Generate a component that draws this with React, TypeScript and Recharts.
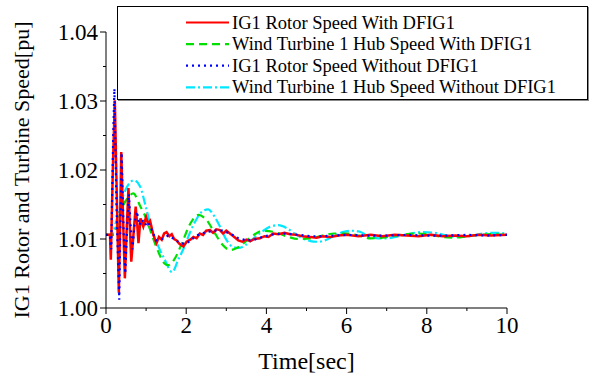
import React from 'react';
import { LineChart, Line, XAxis, YAxis, Label } from 'recharts';

// time [sec] / speed [pu]
const TIME_RED = [0, 0.1, 0.12, 0.17, 0.22, 0.27, 0.32, 0.35, 0.38, 0.43, 0.47, 0.52, 0.56, 0.6, 0.63, 0.69, 0.74, 0.78, 0.81, 0.86, 0.93, 1.0, 1.05, 1.1, 1.18, 1.26, 1.32, 1.39, 1.45, 1.51, 1.58, 1.64, 1.7, 1.76, 1.83, 1.93, 2.01, 2.1, 2.18, 2.26, 2.34, 2.42, 2.5, 2.59, 2.67, 2.75, 2.84, 2.92, 3.0, 3.09, 3.2, 3.3, 3.4, 3.5, 3.6, 3.7, 3.84, 3.95, 4.05, 4.17, 4.3, 4.45, 4.59, 4.75, 4.9, 5.09, 5.25, 5.4, 5.59, 5.8, 6.0, 6.3, 6.6, 6.9, 7.2, 7.5, 7.8, 8.1, 8.4, 8.7, 9.0, 9.3, 9.6, 10];
const IG1_WITH = [1.0106, 1.0106, 1.007, 1.02, 1.0301, 1.016, 1.0022, 1.012, 1.0226, 1.012, 1.0043, 1.012, 1.0174, 1.011, 1.0067, 1.011, 1.0147, 1.012, 1.0094, 1.013, 1.0118, 1.0132, 1.0122, 1.0126, 1.0106, 1.0094, 1.0103, 1.0099, 1.0108, 1.011, 1.0104, 1.0107, 1.01, 1.0098, 1.0093, 1.0089, 1.0096, 1.0099, 1.0103, 1.0101, 1.0108, 1.0106, 1.0112, 1.0113, 1.0109, 1.0114, 1.0113, 1.0108, 1.0112, 1.0108, 1.0103, 1.0098, 1.0096, 1.0099, 1.0097, 1.01, 1.0101, 1.0104, 1.0103, 1.0108, 1.0107, 1.0109, 1.0107, 1.0106, 1.0104, 1.0103, 1.0102, 1.0104, 1.0103, 1.0105, 1.0106, 1.0104, 1.0106, 1.0104, 1.0106, 1.0105, 1.0104, 1.0106, 1.0104, 1.0105, 1.0104, 1.0106, 1.0105, 1.0106];

const TIME_BLUE = [0, 0.1, 0.13, 0.18, 0.21, 0.26, 0.33, 0.36, 0.39, 0.44, 0.48, 0.53, 0.57, 0.62, 0.66, 0.72, 0.77, 0.83, 0.9, 0.97, 1.05, 1.15, 1.25, 1.4, 1.55, 1.7, 1.85, 2.0, 2.15, 2.3, 2.5, 2.7, 2.9, 3.1, 3.3, 3.5, 3.7, 3.9, 4.2, 4.5, 4.8, 5.1, 5.4, 5.7, 6.0, 6.5, 7.0, 7.5, 8.0, 8.5, 9.0, 9.5, 10];
const IG1_WITHOUT = [1.0106, 1.0106, 1.0085, 1.025, 1.0318, 1.015, 1.0012, 1.012, 1.0225, 1.011, 1.005, 1.012, 1.0165, 1.0115, 1.0085, 1.0125, 1.014, 1.012, 1.0128, 1.012, 1.0125, 1.0112, 1.0098, 1.01, 1.0105, 1.01, 1.0094, 1.0093, 1.01, 1.0106, 1.011, 1.0112, 1.0112, 1.0108, 1.0101, 1.0098, 1.0099, 1.0103, 1.0107, 1.0108, 1.0106, 1.0104, 1.0104, 1.0105, 1.0106, 1.0105, 1.0105, 1.0106, 1.0105, 1.0105, 1.0106, 1.0105, 1.0106];

const TIME_GREEN = [0, 0.2, 0.25, 0.4, 0.55, 0.68, 0.85, 1.0, 1.15, 1.3, 1.45, 1.55, 1.7, 1.9, 2.1, 2.3, 2.5, 2.7, 2.9, 3.1, 3.3, 3.6, 3.9, 4.2, 4.5, 4.8, 5.1, 5.4, 5.7, 6.0, 6.3, 6.6, 6.9, 7.2, 7.5, 7.8, 8.1, 8.4, 8.7, 9.0, 9.3, 9.6, 10];
const HUB_WITH = [1.0106, 1.0106, 1.0115, 1.0145, 1.016, 1.0166, 1.0148, 1.013, 1.0105, 1.0082, 1.0065, 1.0062, 1.007, 1.0095, 1.0122, 1.0135, 1.0128, 1.011, 1.0092, 1.0084, 1.0088, 1.0102, 1.0112, 1.011, 1.0104, 1.01, 1.0101, 1.0105, 1.0108, 1.0108, 1.0105, 1.0101, 1.0102, 1.0105, 1.0107, 1.0108, 1.0106, 1.0103, 1.0102, 1.0104, 1.0106, 1.0107, 1.0106];

const TIME_CYAN = [0, 0.15, 0.25, 0.4, 0.55, 0.7, 0.85, 1.0, 1.15, 1.3, 1.45, 1.65, 1.8, 1.95, 2.1, 2.25, 2.4, 2.55, 2.7, 2.85, 3.0, 3.15, 3.3, 3.5, 3.7, 3.9, 4.1, 4.3, 4.5, 4.7, 4.9, 5.1, 5.3, 5.5, 5.7, 5.9, 6.1, 6.3, 6.5, 6.8, 7.0, 7.3, 7.6, 7.9, 8.2, 8.5, 8.8, 9.1, 9.4, 9.7, 10];
const HUB_WITHOUT = [1.0106, 1.0106, 1.0125, 1.0158, 1.0178, 1.0185, 1.0176, 1.0145, 1.0112, 1.009, 1.0072, 1.0052, 1.007, 1.0088, 1.011, 1.0128, 1.014, 1.0143, 1.0133, 1.0117, 1.0099, 1.0089, 1.0087, 1.0092, 1.0102, 1.0111, 1.0118, 1.012, 1.0116, 1.0108, 1.0101, 1.0097, 1.0096, 1.0099, 1.0105, 1.011, 1.0112, 1.0111, 1.0106, 1.0101, 1.0101, 1.0104, 1.0108, 1.011, 1.0109, 1.0105, 1.0103, 1.0104, 1.0108, 1.0109, 1.0108];

const X_TICKS = [0, 1, 2, 3, 4, 5, 6, 7, 8, 9, 10];
const Y_TICKS = [1.0, 1.005, 1.01, 1.015, 1.02, 1.025, 1.03, 1.035, 1.04];

const SERIES = [
  { name: 'IG1 Rotor Speed With DFIG1', color: '#ff0000', dash: undefined as string | undefined },
  { name: 'Wind Turbine 1 Hub Speed With DFIG1', color: '#00e000', dash: '8 5' },
  { name: 'IG1 Rotor Speed Without DFIG1', color: '#0000ff', dash: '2 4' },
  { name: 'Wind Turbine 1 Hub Speed Without DFIG1', color: '#00e8ff', dash: '9 3 2 3' },
];

const toPoints = (ts: number[], vs: number[]) => ts.map((t, i) => ({ t, v: vs[i] }));

const redData = toPoints(TIME_RED, IG1_WITH);
const blueData = toPoints(TIME_BLUE, IG1_WITHOUT);
const greenData = toPoints(TIME_GREEN, HUB_WITH);
const cyanData = toPoints(TIME_CYAN, HUB_WITHOUT);

const FONT = '"Liberation Serif", "Times New Roman", serif';

const YTick = (props: any) => {
  const { x, y, payload } = props;
  const major = Math.round(payload.value * 1000) % 10 === 0;
  return (
    <g>
      <line x1={x} x2={x - (major ? 6 : 3)} y1={y} y2={y} stroke="#000" />
      {major && (
        <text x={x - 8} y={y} textAnchor="end" dominantBaseline="central" fontFamily={FONT} fontSize={23} fill="#000">
          {payload.value.toFixed(2)}
        </text>
      )}
    </g>
  );
};

const XTick = (props: any) => {
  const { x, y, payload } = props;
  const major = payload.value % 2 === 0;
  return (
    <g>
      <line x1={x} x2={x} y1={y} y2={y + (major ? 6 : 3)} stroke="#000" />
      {major && (
        <text x={x} y={y + 17} textAnchor="middle" dominantBaseline="central" fontFamily={FONT} fontSize={23} fill="#000">
          {payload.value}
        </text>
      )}
    </g>
  );
};

const LegendBox = () => (
  <div
    style={{
      position: 'absolute',
      left: 117,
      top: 6,
      width: 471,
      height: 94,
      border: '1px solid #000',
      boxShadow: '1px 1px 0 #888',
      background: '#fff',
      boxSizing: 'border-box',
    }}
  >
    <svg width={469} height={92} style={{ display: 'block' }}>
      {SERIES.map((s, i) => {
        const y = 15.5 + i * 21.6;
        return (
          <g key={s.name}>
            <line x1={68} x2={111} y1={y} y2={y} stroke={s.color} strokeWidth={2.2} strokeDasharray={s.dash} />
            <text x={114} y={y} dominantBaseline="central" fontFamily={FONT} fontSize={18.5} fill="#000">
              {s.name}
            </text>
          </g>
        );
      })}
    </svg>
  </div>
);

export default function App() {
  return (
    <div style={{ position: 'absolute', left: 0, top: 0, width: 595, height: 378, background: '#fff' }}>
      <LineChart width={595} height={378} margin={{ top: 32, right: 88, left: 0, bottom: 0 }}>
        <XAxis
          dataKey="t"
          type="number"
          domain={[0, 10]}
          ticks={X_TICKS}
          interval={0}
          height={70}
          tickSize={0}
          tickMargin={0}
          tickLine={false}
          tick={<XTick />}
          axisLine={{ stroke: '#000' }}
          allowDataOverflow
        >
          <Label value="Time[sec]" position="insideBottom" offset={9} style={{ fontFamily: FONT, fontSize: 24, fill: '#000' }} />
        </XAxis>
        <YAxis
          type="number"
          domain={[1.0, 1.04]}
          ticks={Y_TICKS}
          interval={0}
          width={106}
          tickSize={0}
          tickMargin={0}
          tickLine={false}
          tick={<YTick />}
          axisLine={{ stroke: '#000' }}
          allowDataOverflow
        >
          <Label
            value="IG1 Rotor and Turbine Speed[pu]"
            angle={-90}
            position="insideLeft"
            offset={21}
            style={{ fontFamily: FONT, fontSize: 22, fill: '#000', textAnchor: 'middle' }}
          />
        </YAxis>
        <Line data={cyanData} dataKey="v" name={SERIES[3].name} stroke={SERIES[3].color} strokeWidth={2.2} strokeDasharray={SERIES[3].dash} dot={false} type="monotone" isAnimationActive={false} />
        <Line data={greenData} dataKey="v" name={SERIES[1].name} stroke={SERIES[1].color} strokeWidth={2.2} strokeDasharray={SERIES[1].dash} dot={false} type="monotone" isAnimationActive={false} />
        <Line data={redData} dataKey="v" name={SERIES[0].name} stroke={SERIES[0].color} strokeWidth={2.5} dot={false} type="linear" isAnimationActive={false} />
        <Line data={blueData} dataKey="v" name={SERIES[2].name} stroke={SERIES[2].color} strokeWidth={2.2} strokeDasharray={SERIES[2].dash} dot={false} type="linear" isAnimationActive={false} />
      </LineChart>
      <LegendBox />
    </div>
  );
}
